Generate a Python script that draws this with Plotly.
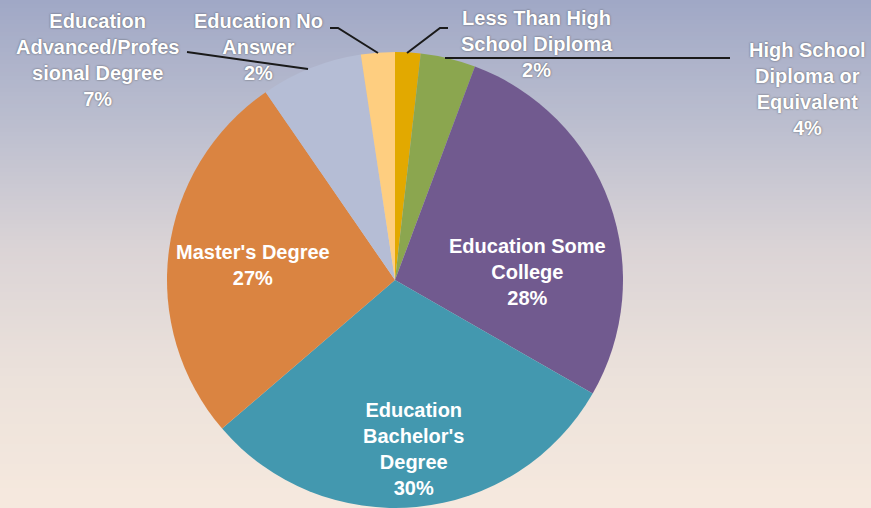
import plotly.graph_objects as go

W, H = 871, 508

# ---- data ----
categories = [
    "Less Than High School Diploma",
    "High School Diploma or Equivalent",
    "Education Some College",
    "Education Bachelor's Degree",
    "Master's Degree",
    "Education Advanced/Professional Degree",
    "Education No Answer",
]
label_lines = [
    "Less Than High<br>School Diploma",
    "High School<br>Diploma or<br>Equivalent",
    "Education Some<br>College",
    "Education<br>Bachelor's<br>Degree",
    "Master's Degree",
    "Education<br>Advanced/Profes<br>sional Degree",
    "Education No<br>Answer",
]
values = [1.8, 3.9, 27.6, 30.4, 26.7, 7.2, 2.4]
colors = ["#E2A900", "#8BA64F", "#715A8F", "#4398AF", "#DA8441", "#B5BDD5", "#FECE80"]

# label placement (pixels) : center of text block
label_pos = [(537, 44), (807, 89), (527, 272), (413, 449), (253, 265), (97, 60), (258, 47)]
outside = [True, True, False, False, False, True, True]

# leader lines in pixels
leaders = [
    [(407, 53), (440, 28), (448, 28)],
    [(445, 58), (730, 58)],
    [(187, 52), (308, 69)],
    [(330, 28), (338, 28), (378, 53)],
]


def px(x, y):
    return x / W, 1 - y / H


fig = go.Figure()

cx, cy, r = 395, 280, 228
x0, y0 = px(cx - r, cy + r)
x1, y1 = px(cx + r, cy - r)
fig.add_trace(go.Pie(
    labels=categories,
    values=values,
    sort=False,
    direction="clockwise",
    rotation=0,
    marker=dict(colors=colors, line=dict(width=0)),
    textinfo="none",
    showlegend=False,
    domain=dict(x=[x0, x1], y=[max(y0, 0), y1]),
))

total = sum(values)
annotations = []
for lab, v, (lx, ly), out in zip(label_lines, values, label_pos, outside):
    ax, ay = px(lx, ly)
    pct = round(v / total * 100)
    annotations.append(dict(
        x=ax, y=ay, xref="paper", yref="paper",
        text=f"{lab}<br>{pct}%", showarrow=False,
        xanchor="center", yanchor="middle", align="center",
        font=dict(family="Liberation Sans, Arial", size=20, color="white",
                  weight="bold",
                  shadow="0px 0px 2px rgba(60,60,60,0.8)" if out else "none"),
    ))

# gradient background
stops = [(0, (160, 168, 198)), (140, (191, 193, 208)), (250, (219, 212, 214)),
         (380, (236, 226, 219)), (508, (246, 233, 222))]


def col_at(y):
    for (ya, ca), (yb, cb) in zip(stops[:-1], stops[1:]):
        if ya <= y <= yb:
            t = (y - ya) / (yb - ya)
            return tuple(round(a + (b - a) * t) for a, b in zip(ca, cb))
    return stops[-1][1]


shapes = []
step = 4
for yy in range(0, H, step):
    c = col_at(yy + step / 2)
    _, ya = px(0, yy)
    _, yb = px(0, yy + step)
    shapes.append(dict(type="rect", xref="paper", yref="paper", x0=0, x1=1,
                       y0=yb, y1=ya, line=dict(width=0),
                       fillcolor=f"rgb{c}", layer="below"))

for pts in leaders:
    path = "M " + " L ".join(f"{px(x, y)[0]},{px(x, y)[1]}" for x, y in pts)
    shapes.append(dict(type="path", xref="paper", yref="paper", path=path,
                       line=dict(color="#1a1a1a", width=2), layer="above"))

fig.update_layout(
    width=W, height=H,
    margin=dict(l=0, r=0, t=0, b=0),
    paper_bgcolor="#D8D3D8",
    plot_bgcolor="rgba(0,0,0,0)",
    annotations=annotations,
    shapes=shapes,
)

fig.write_html("out.html")
